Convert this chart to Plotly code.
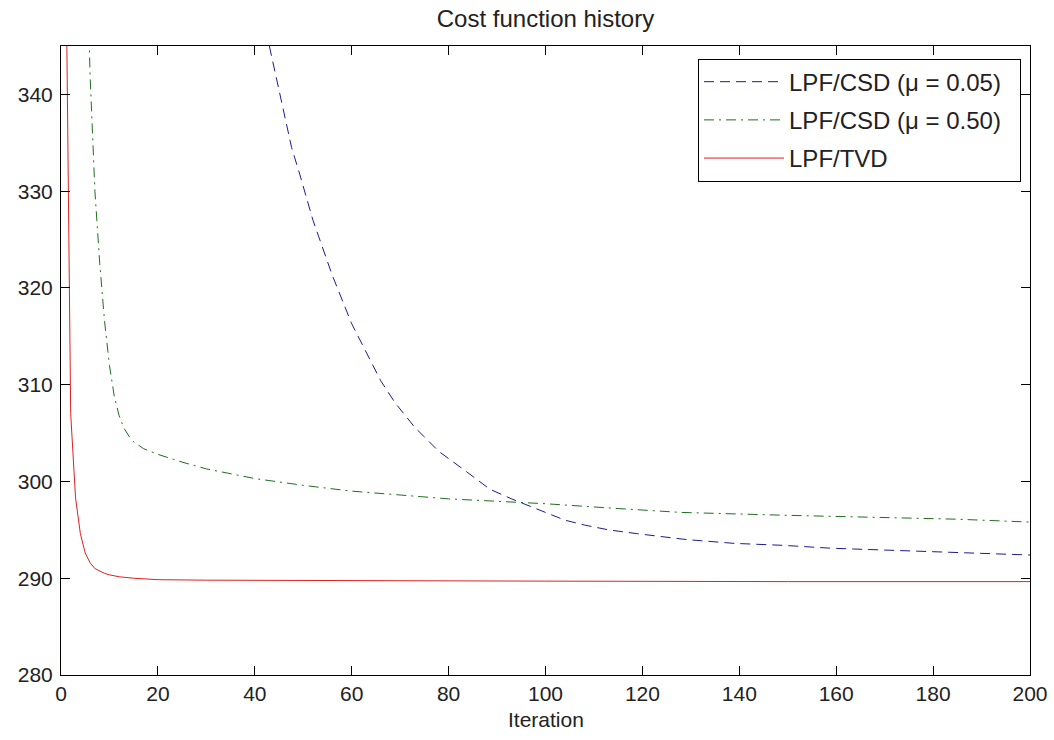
import plotly.graph_objects as go

# ---- data ----
iter_csd005 = [43, 45, 47.6, 49.3, 52, 56, 60, 66, 69, 73, 78, 84, 88.5, 93, 100, 104, 108, 113,
               119, 124, 129, 139, 149, 159, 170, 180, 194, 200]
cost_csd005 = [345.0, 340.3, 334.5, 331.7, 327.0, 321.3, 316.3, 310.4, 308.1, 305.6, 303.1, 300.9,
               299.2, 298.2, 296.8, 296.0, 295.5, 295.0, 294.6, 294.3, 294.0, 293.6, 293.4, 293.1,
               292.9, 292.7, 292.5, 292.4]

iter_csd050 = [5, 6, 7, 8, 9, 10, 11, 12, 13, 14, 15, 17, 20, 25, 30, 40, 50, 60, 70, 80, 90,
               100, 115, 128, 150, 170, 185, 200]
cost_csd050 = [362.0, 342.0, 330.0, 322.5, 316.5, 312.0, 308.8, 306.8, 305.5, 304.7, 304.1, 303.4,
               302.8, 302.0, 301.3, 300.3, 299.6, 299.0, 298.6, 298.2, 297.95, 297.7, 297.2, 296.8,
               296.5, 296.3, 296.1, 295.8]

iter_tvd = [1, 2, 3, 4, 5, 6, 7, 8, 9, 10, 12, 15, 20, 30, 50, 100, 150, 200]
cost_tvd = [355.0, 307.0, 298.3, 294.6, 292.6, 291.6, 291.0, 290.75, 290.5, 290.35, 290.15, 290.0,
            289.85, 289.8, 289.75, 289.7, 289.65, 289.65]

x_ticks = [0, 20, 40, 60, 80, 100, 120, 140, 160, 180, 200]
y_ticks = [280, 290, 300, 310, 320, 330, 340]

FONT = "Liberation Sans, Arial, Helvetica, sans-serif"
PAD = "\u00a0\u00a0"

fig = go.Figure()
fig.add_trace(go.Scatter(x=iter_csd005, y=cost_csd005, mode="lines", legendgroup="a",
                         name="LPF/CSD (\u03bc = 0.05)" + PAD,
                         line=dict(color="#1c1c8c", width=1, dash="10px,6px")))
fig.add_trace(go.Scatter(x=iter_csd050, y=cost_csd050, mode="lines", legendgroup="b",
                         name="LPF/CSD (\u03bc = 0.50)" + PAD,
                         line=dict(color="#1f6e1f", width=1, dash="10px,5px,2px,5px")))
fig.add_trace(go.Scatter(x=iter_tvd, y=cost_tvd, mode="lines", legendgroup="c",
                         name="LPF/TVD",
                         line=dict(color="#dd2222", width=1)))

axis_common = dict(showgrid=False, zeroline=False, showline=True, linecolor="black",
                   linewidth=1, mirror="allticks", ticks="inside", ticklen=9,
                   tickcolor="black", automargin=False,
                   tickfont=dict(family=FONT, size=21, color="#222222"))

fig.update_xaxes(range=[0, 200], tickvals=x_ticks, **axis_common)
fig.update_yaxes(range=[280, 345], tickvals=y_ticks, ticklabelstandoff=3, **axis_common)

fig.update_layout(
    width=1054, height=740,
    margin=dict(l=61, r=24, t=46, b=65),
    paper_bgcolor="white", plot_bgcolor="white",
    title=dict(text="Cost function history", x=0.5, xref="paper", xanchor="center",
               y=1 - 19 / 740, yref="container", yanchor="middle",
               font=dict(family=FONT, size=24, color="#222222")),
    showlegend=True,
    legend=dict(x=0.6574, y=0.98, xanchor="left", yanchor="top",
                bgcolor="white", bordercolor="black", borderwidth=1,
                font=dict(family=FONT, size=24, color="#222222"),
                itemwidth=80, tracegroupgap=4),
    annotations=[dict(text="Iteration", x=0.5, y=-0.0715, xref="paper", yref="paper",
                      xanchor="center", yanchor="middle", showarrow=False,
                      font=dict(family=FONT, size=21, color="#222222"))],
)

fig.write_html("out.html", config={"displayModeBar": False},
               post_script="document.body.style.margin='0';document.body.style.overflow='hidden';")
